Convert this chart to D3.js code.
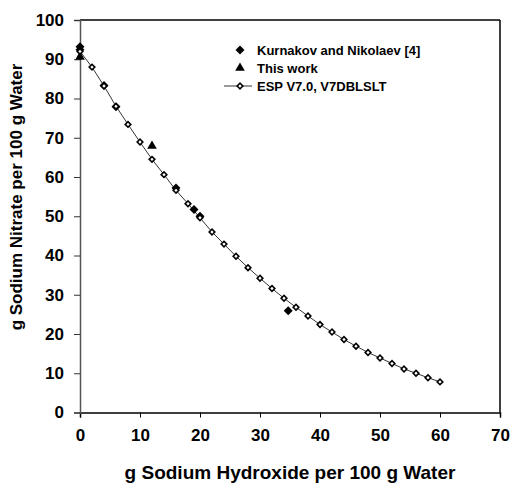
<!DOCTYPE html>
<html>
<head>
<meta charset="utf-8">
<script src="https://cdn.jsdelivr.net/npm/d3@7"></script>
<style>
  body { margin: 0; background: #fff; }
  svg { display: block; }
  text { font-family: Arial, "Liberation Sans", sans-serif; font-weight: bold; fill: #000; }
</style>
</head>
<body>
<svg id="chart" width="513" height="485"></svg>
<script>
// ---- data ----
const espX = [0, 2, 4, 6, 8, 10, 12, 14, 16, 18, 20, 22, 24, 26, 28, 30, 32, 34, 36, 38, 40, 42, 44, 46, 48, 50, 52, 54, 56, 58, 60];
const espY = [92.0, 88.0, 83.2, 78.0, 73.4, 68.9, 64.5, 60.6, 56.6, 53.2, 49.6, 46.0, 42.9, 39.8, 36.9, 34.2, 31.6, 29.1, 26.8, 24.6, 22.4, 20.5, 18.6, 16.9, 15.3, 13.9, 12.5, 11.1, 10.0, 8.85, 7.8];
const kurX = [0, 0, 4, 6, 16, 19, 20, 34.7];
const kurY = [93.2, 92.4, 83.3, 77.9, 57.2, 51.7, 50.0, 25.9];
const workX = [0, 12];
const workY = [90.6, 67.9];
const xTicks = [0, 10, 20, 30, 40, 50, 60, 70];
const yTicks = [0, 10, 20, 30, 40, 50, 60, 70, 80, 90, 100];
const legendLabels = ["Kurnakov and Nikolaev [4]", "This work", "ESP V7.0, V7DBLSLT"];
const xTitle = "g Sodium Hydroxide per 100 g Water";
const yTitle = "g Sodium Nitrate per 100 g Water";

// ---- layout ----
const svg = d3.select("#chart");
const L = 80, R = 500, T = 20, B = 412.5;
const x = d3.scaleLinear().domain([0, 70]).range([L, R]);
const y = d3.scaleLinear().domain([0, 100]).range([B, T]);

// frame top/right
svg.append("line").attr("x1", L).attr("x2", R).attr("y1", T).attr("y2", T).attr("stroke", "#000").attr("stroke-width", 1.5);
svg.append("line").attr("x1", R).attr("x2", R).attr("y1", T).attr("y2", B).attr("stroke", "#000").attr("stroke-width", 1.5);

// x axis
const xAxis = svg.append("g").attr("transform", `translate(0,${B})`)
  .call(d3.axisBottom(x).tickValues(xTicks).tickSize(5).tickPadding(11).tickFormat(d3.format("d")));
xAxis.select(".domain").attr("stroke", "#000").attr("stroke-width", 1.5);
xAxis.selectAll(".tick line").attr("stroke", "#000").attr("stroke-width", 1);
xAxis.selectAll("text").style("font-size", "17px").style("font-family", "Arial, 'Liberation Sans', sans-serif").style("font-weight", "bold").attr("fill", "#000");

// y axis
const yAxis = svg.append("g").attr("transform", `translate(${L},0)`)
  .call(d3.axisLeft(y).tickValues(yTicks).tickSize(6).tickPadding(10).tickFormat(d3.format("d")));
yAxis.select(".domain").attr("stroke", "#555").attr("stroke-width", 1.5);
yAxis.selectAll(".tick line").attr("stroke", "#333").attr("stroke-width", 1);
yAxis.selectAll("text").style("font-size", "17px").style("font-family", "Arial, 'Liberation Sans', sans-serif").style("font-weight", "bold").attr("fill", "#000");

// titles
svg.append("text").attr("x", (L + R) / 2).attr("y", 479).attr("text-anchor", "middle")
  .style("font-size", "19px").text(xTitle);
svg.append("text").attr("transform", `translate(22,197) rotate(-90)`).attr("text-anchor", "middle")
  .style("font-size", "17px").text(yTitle);

// ESP line
const espData = espX.map((d, i) => [d, espY[i]]);
svg.append("path").datum(espData)
  .attr("fill", "none").attr("stroke", "#000").attr("stroke-width", 0.8)
  .attr("d", d3.line().x(d => x(d[0])).y(d => y(d[1])));

// square diamonds (rotated squares)
const diamondOpen = d3.symbol().type(d3.symbolSquare).size(16);
const diamondFill = d3.symbol().type(d3.symbolSquare).size(40);
const triFill = d3.symbol().type(d3.symbolTriangle).size(40);

// Kurnakov diamonds
svg.append("g").selectAll("path").data(kurX.map((d, i) => [d, kurY[i]])).join("path")
  .attr("transform", d => `translate(${x(d[0])},${y(d[1])}) rotate(45)`)
  .attr("d", diamondFill).attr("fill", "#000");

// This work triangles
svg.append("g").selectAll("path").data(workX.map((d, i) => [d, workY[i]])).join("path")
  .attr("transform", d => `translate(${x(d[0])},${y(d[1])})`)
  .attr("d", triFill).attr("fill", "#000");

// ESP open diamonds
svg.append("g").selectAll("path").data(espData).join("path")
  .attr("transform", d => `translate(${x(d[0])},${y(d[1])}) rotate(45)`)
  .attr("d", diamondOpen).attr("fill", "#fff").attr("stroke", "#000").attr("stroke-width", 1.6);

// legend
const lg = svg.append("g");
const lx = 240, ly = [50, 68, 86], tx = 257;
lg.append("path").attr("transform", `translate(${lx},${ly[0]}) rotate(45)`).attr("d", diamondFill).attr("fill", "#000");
lg.append("path").attr("transform", `translate(${lx},${ly[1]})`).attr("d", triFill).attr("fill", "#000");
lg.append("line").attr("x1", 224).attr("x2", 252).attr("y1", ly[2]).attr("y2", ly[2]).attr("stroke", "#000").attr("stroke-width", 0.8);
lg.append("path").attr("transform", `translate(${lx},${ly[2]}) rotate(45)`).attr("d", diamondOpen).attr("fill", "#fff").attr("stroke", "#000").attr("stroke-width", 1.6);
legendLabels.forEach((t, i) => {
  lg.append("text").attr("x", tx).attr("y", ly[i]).attr("dy", "0.36em").style("font-size", "13px").text(t);
});
</script>
</body>
</html>
